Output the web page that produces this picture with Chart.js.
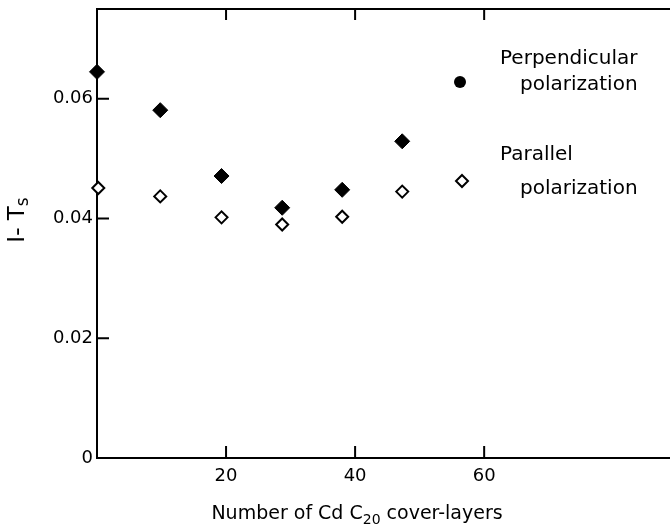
<!DOCTYPE html>
<html>
<head>
<meta charset="utf-8">
<script src="https://cdn.jsdelivr.net/npm/chart.js@4"></script>
<style>
  html, body { margin: 0; padding: 0; background: #fff; }
  #wrap { width: 670px; height: 528px; }
</style>
</head>
<body>
<div id="wrap"><canvas id="chart" width="670" height="528"></canvas></div>
<script>
// layers of CdC20
const perpLayers = [0, 9.8, 19.3, 28.7, 38.0, 47.3];
const perpValues = [0.0645, 0.0581, 0.0471, 0.0418, 0.0448, 0.0529];
const paraLayers = [0.2, 9.8, 19.3, 28.7, 38.0, 47.3];
const paraValues = [0.0451, 0.0437, 0.0402, 0.0390, 0.0403, 0.0445];
const xTicks = [20, 40, 60];
const yTicks = [0, 0.02, 0.04, 0.06];

const FONT = "'DejaVu Sans', sans-serif";

// inward tick marks, top frame line, axis titles and the legend
const decor = {
  id: "decor",
  afterDraw(chart) {
    const ctx = chart.ctx;
    const a = chart.chartArea;
    const xs = chart.scales.x, ys = chart.scales.y;
    ctx.save();
    ctx.strokeStyle = "#000";
    ctx.lineWidth = 2;
    // top frame
    ctx.beginPath();
    ctx.moveTo(a.left, a.top);
    ctx.lineTo(a.right, a.top);
    ctx.stroke();
    // ticks
    ctx.beginPath();
    xTicks.forEach(v => {
      const px = xs.getPixelForValue(v);
      ctx.moveTo(px, a.bottom); ctx.lineTo(px, a.bottom - 12);
      ctx.moveTo(px, a.top); ctx.lineTo(px, a.top + 11);
    });
    yTicks.forEach(v => {
      if (v === 0) return;
      const py = ys.getPixelForValue(v);
      ctx.moveTo(a.left, py); ctx.lineTo(a.left + 12, py);
    });
    ctx.stroke();

    ctx.fillStyle = "#000";
    // x title with subscript
    ctx.textBaseline = "alphabetic";
    ctx.textAlign = "left";
    const parts = [["Number of Cd C", 19, 0], ["20", 14, 5], [" cover-layers", 19, 0]];
    let total = 0;
    parts.forEach(p => { ctx.font = p[1] + "px " + FONT; total += ctx.measureText(p[0]).width; });
    let x = 357 - total / 2;
    parts.forEach(p => {
      ctx.font = p[1] + "px " + FONT;
      ctx.fillText(p[0], x, 519 + p[2]);
      x += ctx.measureText(p[0]).width;
    });

    // y title rotated
    ctx.save();
    ctx.translate(24, 220);
    ctx.rotate(-Math.PI / 2);
    ctx.font = "23px " + FONT;
    const t1 = "I- T";
    const w1 = ctx.measureText(t1).width;
    ctx.font = "17px " + FONT;
    const w2 = ctx.measureText("s").width;
    ctx.font = "23px " + FONT;
    ctx.fillText(t1, -(w1 + w2) / 2, 0);
    ctx.font = "17px " + FONT;
    ctx.fillText("s", -(w1 + w2) / 2 + w1, 4);
    ctx.restore();

    // legend
    ctx.font = "20px " + FONT;
    ctx.fillText("Perpendicular", 500, 64);
    ctx.fillText("polarization", 520, 90);
    ctx.fillText("Parallel", 500, 160);
    ctx.fillText("polarization", 520, 194);
    ctx.beginPath();
    ctx.arc(460, 82, 6, 0, Math.PI * 2);
    ctx.fill();
    ctx.lineWidth = 2;
    ctx.fillStyle = "#fff";
    ctx.beginPath();
    ctx.moveTo(462, 175); ctx.lineTo(468, 181); ctx.lineTo(462, 187); ctx.lineTo(456, 181);
    ctx.closePath();
    ctx.fill();
    ctx.stroke();
    ctx.restore();
  }
};

const ctx = document.getElementById("chart").getContext("2d");
new Chart(ctx, {
  type: "scatter",
  data: {
    datasets: [
      {
        label: "Perpendicular polarization",
        data: perpLayers.map((x, i) => ({ x: x, y: perpValues[i] })),
        pointStyle: "rectRot",
        pointRadius: 7.5,
        backgroundColor: "#000",
        borderColor: "#000",
        borderWidth: 1,
        clip: false
      },
      {
        label: "Parallel polarization",
        data: paraLayers.map((x, i) => ({ x: x, y: paraValues[i] })),
        pointStyle: "rectRot",
        pointRadius: 6,
        backgroundColor: "#fff",
        borderColor: "#000",
        borderWidth: 2,
        clip: false
      }
    ]
  },
  options: {
    responsive: false,
    animation: false,
    layout: { autoPadding: false, padding: { top: 9, right: 0, left: 0, bottom: 0 } },
    plugins: { legend: { display: false }, tooltip: { enabled: false } },
    scales: {
      x: {
        type: "linear",
        min: 0,
        max: 88.8,
        afterBuildTicks: s => { s.ticks = xTicks.map(v => ({ value: v })); },
        afterFit: s => { s.height = 70; s.paddingLeft = 0; s.paddingRight = 0; },
        grid: { display: false, drawTicks: false },
        border: { display: true, color: "#000", width: 2 },
        ticks: { color: "#000", font: { family: FONT, size: 18 }, padding: 8, maxRotation: 0 }
      },
      y: {
        min: 0,
        max: 0.075,
        afterBuildTicks: s => { s.ticks = yTicks.map(v => ({ value: v })); },
        afterFit: s => { s.width = 97; s.paddingTop = 0; s.paddingBottom = 0; },
        grid: { display: false, drawTicks: false },
        border: { display: true, color: "#000", width: 2 },
        ticks: {
          color: "#000",
          font: { family: FONT, size: 18 },
          padding: 4,
          callback: v => v === 0 ? "0" : v.toFixed(2)
        }
      }
    }
  },
  plugins: [decor]
});
</script>
</body>
</html>
